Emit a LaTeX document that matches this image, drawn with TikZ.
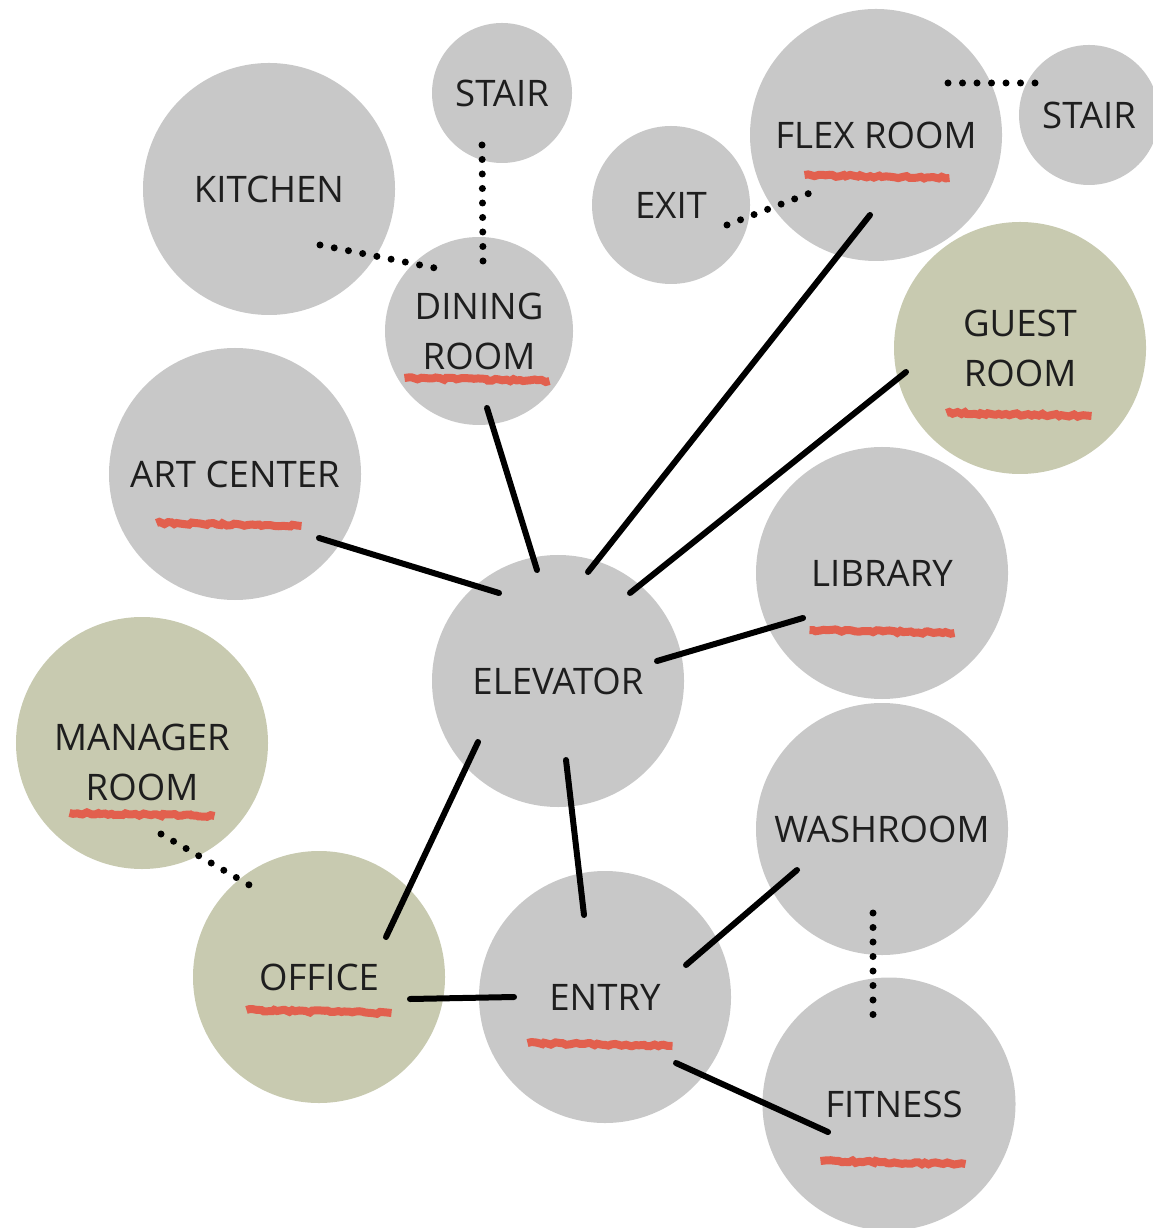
\documentclass[tikz,border=0pt]{standalone}
\usepackage{fontspec}
\setmainfont{Open Sans}
\usepackage{tikz}
\usetikzlibrary{calc,decorations.pathmorphing}
\usepackage{xcolor}
\definecolor{roomgray}{RGB}{200,200,200}
\definecolor{roomolive}{RGB}{200,202,176}
\definecolor{squigred}{RGB}{226,96,78}
\definecolor{txtcol}{RGB}{30,30,30}

\begin{document}
\begin{tikzpicture}[
  room/.style={circle, fill=roomgray, inner sep=0pt,
               align=center, text=txtcol,
               font=\fontsize{10.4}{14.2}\selectfont,
               minimum size=2.52cm},
  smallroom/.style={room, minimum size=1.40cm},
  olive/.style={fill=roomolive},
  link/.style={line width=0.06cm, line cap=round, black},
  dotlink/.style={line width=0.07cm, line cap=round, black,
                  dash pattern=on 0pt off 0.145cm},
  scribble/.style={line width=0.08cm, squigred, line cap=butt,
                   decorate, decoration={random steps,
                   segment length=1pt, amplitude=0.35pt}},
]
  \useasboundingbox (0,0) rectangle (11.53,-12.28);

  %% ---- rooms ----
  \node[smallroom] (stairA) at (5.02,-0.93) {STAIR};
  \node[room] (kitchen) at (2.69,-1.89) {KITCHEN};
  \node[room, minimum size=1.88cm] (dining) at (4.79,-3.31) {DINING\\ROOM};
  \node[room, minimum size=1.58cm] (exit) at (6.71,-2.05) {EXIT};
  \node[room] (flex) at (8.76,-1.35) {FLEX ROOM};
  \node[smallroom] (stairB) at (10.89,-1.15) {STAIR};
  \node[room, olive] (guest) at (10.20,-3.48) {GUEST\\ROOM};
  \node[room] (art) at (2.35,-4.74) {ART CENTER};
  \node[room] (library) at (8.82,-5.73) {LIBRARY};
  \node[room] (elev) at (5.58,-6.81) {ELEVATOR};
  \node[room, olive] (mgr) at (1.42,-7.43) {};
  \node[align=center, text=txtcol, font=\fontsize{10.4}{14.2}\selectfont]
    (mgrtxt) at ([yshift=-0.19cm]mgr.center) {MANAGER\\ROOM};
  \node[room] (wash) at (8.82,-8.29) {WASHROOM};
  \node[room, olive] (office) at (3.19,-9.77) {OFFICE};
  \node[room] (entry) at (6.05,-9.97) {ENTRY};
  \node[room, text width=2.52cm, text depth=0pt] (fitness) at (8.89,-11.04)
    {\hspace*{0.1cm}FITNESS};

  %% ---- red marks ----
  \foreach \n/\dx/\dy in {flex/0.01/-0.42, dining/-0.02/-0.49,
      guest/-0.01/-0.67, art/-0.06/-0.51, library/0/-0.59,
      mgr/0/-0.72, office/0/-0.35, entry/-0.05/-0.48,
      fitness/0.04/-0.59}
    \draw[scribble] ($(\n)+(\dx-0.725,\dy+0.02)$) -- ++(1.45,-0.03);

  %% ---- solid links ----
  \draw[link] ($(elev)+(-0.21,1.11)$) -- ($(dining)+(0.08,-0.77)$);
  \draw[link] ($(elev)+(0.30,1.09)$) -- ($(flex)+(-0.06,-0.80)$);
  \draw[link] ($(elev)+(0.72,0.88)$) -- ($(guest)+(-1.14,-0.24)$);
  \draw[link] ($(elev)+(-0.59,0.88)$) -- ($(art)+(0.84,-0.64)$);
  \draw[link] ($(elev)+(0.99,0.20)$) -- ($(library)+(-0.79,-0.45)$);
  \draw[link] ($(elev)+(-0.80,-0.61)$) -- ($(office)+(0.67,0.40)$);
  \draw[link] ($(elev)+(0.08,-0.79)$) -- ($(entry)+(-0.21,0.82)$);
  \draw[link] ($(entry)+(-0.91,0)$) -- ($(office)+(0.91,-0.22)$);
  \draw[link] ($(entry)+(0.81,0.32)$) -- ($(wash)+(-0.85,-0.41)$);
  \draw[link] ($(entry)+(0.71,-0.66)$) -- ($(fitness)+(-0.61,-0.28)$);

  %% ---- dotted links ----
  \draw[dotlink] ($(stairA)+(-0.20,-0.52)$) -- ($(dining)+(0.04,0.69)$);
  \draw[dotlink] ($(kitchen)+(0.51,-0.56)$) -- ($(dining)+(-0.44,0.63)$);
  \draw[dotlink] ($(exit)+(0.56,-0.20)$) -- ($(flex)+(-0.66,-0.58)$);
  \draw[dotlink] ($(flex)+(0.72,0.52)$) -- ($(stairB)+(-0.53,0.32)$);
  \draw[dotlink] ($(wash)+(-0.09,-0.84)$) -- ($(fitness)+(-0.16,0.88)$);
  \draw[dotlink] ($(mgr)+(0.19,-0.91)$) -- ($(office)+(-0.68,0.91)$);
\end{tikzpicture}
\end{document}
